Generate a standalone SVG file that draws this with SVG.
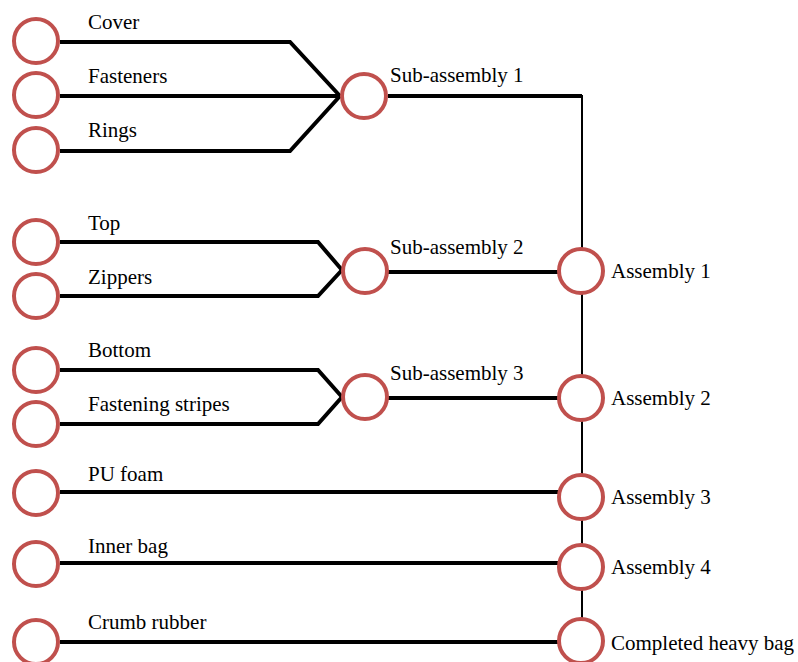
<svg xmlns="http://www.w3.org/2000/svg" width="798" height="662" viewBox="0 0 798 662">
<style>
.n{fill:#fff;stroke:#c0504d;stroke-width:4}
.t{stroke:#000;stroke-width:4;fill:none}
.v{stroke:#000;stroke-width:2;fill:none}
.l{font-family:'Liberation Serif',serif;font-size:21px;fill:#000}
</style>
<rect width="798" height="662" fill="#fff"/>
<g id="connectors">
<polyline class="v" points="388,96 582,96 582,641"/>
<line class="t" x1="388" y1="96" x2="582" y2="96"/>
<polyline class="t" points="60,42 290,42 340,96"/>
<line class="t" x1="60" y1="96" x2="340" y2="96"/>
<polyline class="t" points="60,151 290,151 340,96"/>
<polyline class="t" points="60,242 318,242 342,270"/>
<polyline class="t" points="60,296 318,296 342,270"/>
<line class="t" x1="388" y1="272" x2="560" y2="272"/>
<polyline class="t" points="60,370 318,370 342,397"/>
<polyline class="t" points="60,424 318,424 342,397"/>
<line class="t" x1="388" y1="398" x2="560" y2="398"/>
<line class="t" x1="60" y1="492" x2="560" y2="492"/>
<line class="t" x1="60" y1="563" x2="560" y2="563"/>
<line class="t" x1="60" y1="642" x2="560" y2="642"/>
</g>
<g id="cover"><circle class="n" cx="36" cy="41" r="22"/><text class="l" x="88" y="29">Cover</text></g>
<g id="fasteners"><circle class="n" cx="36" cy="95" r="22"/><text class="l" x="88" y="83">Fasteners</text></g>
<g id="rings"><circle class="n" cx="36" cy="150" r="22"/><text class="l" x="88" y="137">Rings</text></g>
<g id="top"><circle class="n" cx="36" cy="242" r="22"/><text class="l" x="88" y="230">Top</text></g>
<g id="zippers"><circle class="n" cx="36" cy="296" r="22"/><text class="l" x="88" y="284">Zippers</text></g>
<g id="bottom"><circle class="n" cx="36" cy="370" r="22"/><text class="l" x="88" y="357">Bottom</text></g>
<g id="fastening-stripes"><circle class="n" cx="36" cy="424" r="22"/><text class="l" x="88" y="411">Fastening stripes</text></g>
<g id="pu-foam"><circle class="n" cx="36" cy="493" r="22"/><text class="l" x="88" y="481">PU foam</text></g>
<g id="inner-bag"><circle class="n" cx="36" cy="564" r="22"/><text class="l" x="88" y="553">Inner bag</text></g>
<g id="crumb-rubber"><circle class="n" cx="36" cy="642" r="22"/><text class="l" x="88" y="629">Crumb rubber</text></g>
<g id="sub1"><circle class="n" cx="364" cy="96" r="22"/><text class="l" x="390" y="82">Sub-assembly 1</text></g>
<g id="sub2"><circle class="n" cx="365" cy="271" r="22"/><text class="l" x="390" y="254">Sub-assembly 2</text></g>
<g id="sub3"><circle class="n" cx="365" cy="397" r="22"/><text class="l" x="390" y="380">Sub-assembly 3</text></g>
<g id="asm1"><circle class="n" cx="581" cy="271" r="22"/><text class="l" x="611" y="278">Assembly 1</text></g>
<g id="asm2"><circle class="n" cx="581" cy="398" r="22"/><text class="l" x="611" y="405">Assembly 2</text></g>
<g id="asm3"><circle class="n" cx="581" cy="497" r="22"/><text class="l" x="611" y="504">Assembly 3</text></g>
<g id="asm4"><circle class="n" cx="581" cy="567" r="22"/><text class="l" x="611" y="574">Assembly 4</text></g>
<g id="completed"><circle class="n" cx="581" cy="641" r="22"/><text class="l" x="611" y="650">Completed heavy bag</text></g>
</svg>
